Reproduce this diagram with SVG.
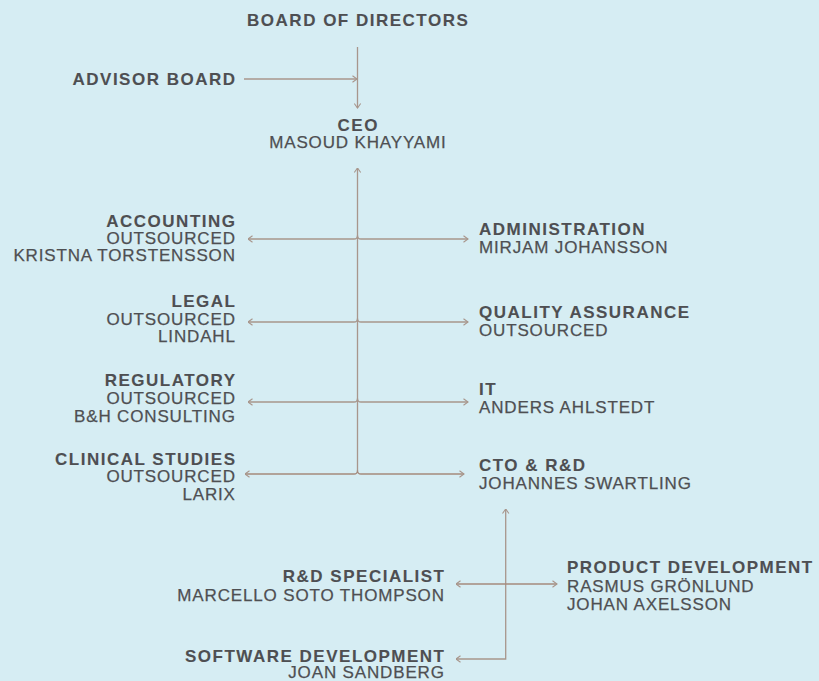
<svg xmlns="http://www.w3.org/2000/svg" width="819" height="681" viewBox="0 0 819 681">
<defs>
<marker id="arr" viewBox="0 0 6 8" refX="5.5" refY="4" markerWidth="6" markerHeight="8" markerUnits="userSpaceOnUse" orient="auto-start-reverse">
<path d="M1,0.8 L5.5,4 L1,7.2" fill="none" stroke="#a8968c" stroke-width="1.1"/>
</marker>
<style>
text{font-family:"Liberation Sans",Arial,sans-serif;fill:#4e4f52;font-size:17px;letter-spacing:0.85px;stroke:#4e4f52;stroke-width:0.25px}
.b{font-weight:bold;letter-spacing:1.5px;stroke-width:0.1px}
.r{text-anchor:end}
.m{text-anchor:middle}
.c{fill:none;stroke:#a8968c;stroke-width:1.3}
.h{fill:none;stroke:#a58a7c;stroke-width:1.3}
</style>
</defs>
<rect width="819" height="681" fill="#d6edf3"/>
<g id="connectors">
<path class="c" d="M357.5,47 V108" marker-end="url(#arr)"/>
<path class="c" d="M244,79 H357" marker-end="url(#arr)"/>
<path class="c" d="M357.5,168 V471" marker-start="url(#arr)"/>
<path class="c" d="M248,239 H354 Q357.5,239 357.5,235.5 Q357.5,239 361,239 H468" marker-start="url(#arr)" marker-end="url(#arr)"/>
<path class="c" d="M248,322 H354 Q357.5,322 357.5,318.5 Q357.5,322 361,322 H468" marker-start="url(#arr)" marker-end="url(#arr)"/>
<path class="c" d="M248,402 H354 Q357.5,402 357.5,398.5 Q357.5,402 361,402 H468" marker-start="url(#arr)" marker-end="url(#arr)"/>
<path class="h" d="M245,474 H354 Q357.5,474 357.5,470.5 Q357.5,474 361,474 H464" marker-start="url(#arr)" marker-end="url(#arr)"/>
<path class="c" d="M505.7,509 V659 H456" marker-start="url(#arr)" marker-end="url(#arr)"/>
<path class="h" d="M456,584 H557" marker-start="url(#arr)" marker-end="url(#arr)"/>
</g>
<g id="board"><text class="b m" x="358.2" y="26">BOARD OF DIRECTORS</text></g>
<g id="advisor"><text class="b r" x="236.5" y="85">ADVISOR BOARD</text></g>
<g id="ceo"><text class="b m" x="358.2" y="131">CEO</text><text class="m" x="357.9" y="148">MASOUD KHAYYAMI</text></g>
<g id="accounting"><text class="b r" x="236.5" y="227">ACCOUNTING</text><text class="r" x="235.8" y="244">OUTSOURCED</text><text class="r" x="235.8" y="261">KRISTNA TORSTENSSON</text></g>
<g id="legal"><text class="b r" x="236.5" y="307">LEGAL</text><text class="r" x="235.8" y="325">OUTSOURCED</text><text class="r" x="235.8" y="342">LINDAHL</text></g>
<g id="regulatory"><text class="b r" x="236.5" y="386">REGULATORY</text><text class="r" x="235.8" y="404">OUTSOURCED</text><text class="r" x="235.8" y="422">B&amp;H CONSULTING</text></g>
<g id="clinical"><text class="b r" x="236.5" y="465">CLINICAL STUDIES</text><text class="r" x="235.8" y="482">OUTSOURCED</text><text class="r" x="235.8" y="500">LARIX</text></g>
<g id="administration"><text class="b" x="479" y="235">ADMINISTRATION</text><text x="479" y="253">MIRJAM JOHANSSON</text></g>
<g id="quality"><text class="b" x="479" y="318">QUALITY ASSURANCE</text><text x="479" y="336">OUTSOURCED</text></g>
<g id="it"><text class="b" x="479" y="395">IT</text><text x="479" y="413">ANDERS AHLSTEDT</text></g>
<g id="cto"><text class="b" x="479" y="471">CTO &amp; R&amp;D</text><text x="479" y="489">JOHANNES SWARTLING</text></g>
<g id="rd-specialist"><text class="b r" x="445.5" y="582">R&amp;D SPECIALIST</text><text class="r" x="444.8" y="601">MARCELLO SOTO THOMPSON</text></g>
<g id="product"><text class="b" x="567" y="573">PRODUCT DEVELOPMENT</text><text x="567" y="592">RASMUS GRÖNLUND</text><text x="567" y="610">JOHAN AXELSSON</text></g>
<g id="software"><text class="b r" x="445.5" y="662">SOFTWARE DEVELOPMENT</text><text class="r" x="444.8" y="678">JOAN SANDBERG</text></g>
</svg>
